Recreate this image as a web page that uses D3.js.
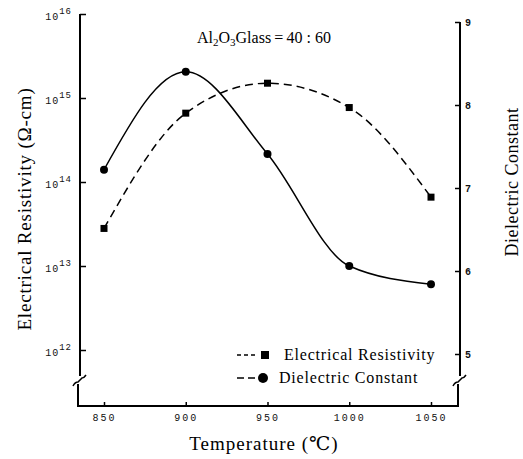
<!DOCTYPE html>
<html>
<head>
<meta charset="utf-8">
<script src="https://cdnjs.cloudflare.com/ajax/libs/d3/7.8.5/d3.min.js"></script>
<style>
  html, body { margin: 0; padding: 0; background: #fff; }
  svg { display: block; }
</style>
</head>
<body>
<svg id="chart" width="523" height="459"></svg>
<script>
// Firing temperature (°C)
const temperatures = [850, 900, 950, 1000, 1050];
// Electrical resistivity (Ω-cm), log scale, left axis
const resistivity = [2.8e13, 6.6e14, 1.5e15, 7.7e14, 6.6e13];
// Dielectric constant, right axis
const dielectric = [7.22, 8.40, 7.41, 6.06, 5.84];
// Tick values
const resistivityTicks = [1e12, 1e13, 1e14, 1e15, 1e16];
const dielectricTicks = [5, 6, 7, 8, 9];
const temperatureTicks = [850, 900, 950, 1000, 1050];

const svg = d3.select("#chart");
const serif = "'Liberation Serif', 'DejaVu Serif', serif";
const mono = "'Liberation Mono', 'DejaVu Sans Mono', monospace";

// frame geometry
const leftX = 80, rightX = 460, bottomY = 406;
const breakY = 380;

const x = d3.scaleLinear().domain([850, 1050]).range([104, 431]);
const yL = d3.scaleLog().domain([1e12, 1e16]).range([350, 14]);
const yR = d3.scaleLinear().domain([5, 9]).range([354, 22]);

// ---- axes lines with break marks ----
const frame = svg.append("g").attr("stroke", "#000").attr("stroke-width", 2).attr("fill", "none");
// left spine
frame.append("path").attr("d", `M${leftX},${yL(1e16)} L${leftX},${breakY - 4}`);
frame.append("path").attr("d", `M${leftX - 2},${breakY + 4} L${leftX - 2},${bottomY}`);
frame.append("path").attr("stroke-width", 1.5)
  .attr("d", `M${leftX - 7},${breakY + 6} q2,-4 5,-4 l4,-4 q2,0 4,-3`);
// right spine
frame.append("path").attr("d", `M${rightX},${yR(9)} L${rightX},${breakY - 4}`);
frame.append("path").attr("d", `M${rightX - 2},${breakY + 4} L${rightX - 2},${bottomY}`);
frame.append("path").attr("stroke-width", 1.5)
  .attr("d", `M${rightX - 7},${breakY + 6} q2,-4 5,-4 l4,-4 q2,0 4,-3`);
// bottom spine
frame.append("path").attr("d", `M${leftX - 3},${bottomY} L${rightX - 1},${bottomY}`);

// ---- left axis (log) ----
const gL = svg.append("g").attr("transform", `translate(${leftX},0)`)
  .call(d3.axisLeft(yL).tickValues(resistivityTicks).tickSize(-6).tickPadding(8)
    .tickFormat(d => Math.round(Math.log10(d))));
gL.select(".domain").remove();
gL.selectAll(".tick line").attr("stroke", "#000").attr("stroke-width", 1.5);
gL.selectAll(".tick text").each(function (d) {
  const t = d3.select(this);
  const exp = Math.round(Math.log10(d));
  t.text(null).attr("font-family", mono).attr("font-size", 10).attr("fill", "#111")
    .attr("dy", "0.5em").attr("letter-spacing", 1);
  t.append("tspan").text("10");
  t.append("tspan").attr("dy", -6).attr("font-size", 9).text(exp);
});

// ---- right axis (linear) ----
const gR = svg.append("g").attr("transform", `translate(${rightX},0)`)
  .call(d3.axisRight(yR).tickValues(dielectricTicks).tickSize(-5).tickPadding(5)
    .tickFormat(d3.format("d")));
gR.select(".domain").remove();
gR.selectAll(".tick line").attr("stroke", "#000").attr("stroke-width", 1.5);
gR.selectAll(".tick text").attr("font-family", mono).attr("font-size", 10)
  .attr("fill", "#111").attr("font-weight", "bold");

// ---- bottom axis ----
const gB = svg.append("g").attr("transform", `translate(0,${bottomY})`)
  .call(d3.axisBottom(x).tickValues(temperatureTicks).tickSize(-4).tickPadding(8)
    .tickFormat(d3.format("d")));
gB.select(".domain").remove();
gB.selectAll(".tick line").attr("stroke", "#000").attr("stroke-width", 1.5);
gB.selectAll(".tick text").attr("font-family", mono).attr("font-size", 10)
  .attr("fill", "#111").attr("letter-spacing", 2);

// ---- curves ----
const resLine = d3.line().x((d, i) => x(temperatures[i])).y(d => yL(d))
  .curve(d3.curveMonotoneX);
const dieLine = d3.line().x((d, i) => x(temperatures[i])).y(d => yR(d))
  .curve(d3.curveMonotoneX);

svg.append("path").datum(resistivity).attr("d", resLine)
  .attr("fill", "none").attr("stroke", "#000").attr("stroke-width", 1.5)
  .attr("stroke-dasharray", "8,5");
svg.append("path").datum(dielectric).attr("d", dieLine)
  .attr("fill", "none").attr("stroke", "#000").attr("stroke-width", 1.5);

svg.append("g").selectAll("rect").data(resistivity).join("rect")
  .attr("x", (d, i) => x(temperatures[i]) - 3.5).attr("y", d => yL(d) - 3.5)
  .attr("width", 7).attr("height", 7).attr("fill", "#000");
svg.append("g").selectAll("circle").data(dielectric).join("circle")
  .attr("cx", (d, i) => x(temperatures[i])).attr("cy", d => yR(d))
  .attr("r", 4).attr("fill", "#000");

// ---- title ----
const title = svg.append("text").attr("x", 264).attr("y", 43).attr("text-anchor", "middle")
  .attr("font-family", serif).attr("font-size", 16).attr("fill", "#000");
title.append("tspan").text("Al");
title.append("tspan").attr("font-size", 11).attr("dy", 3).text("2");
title.append("tspan").attr("dy", -3).text("O");
title.append("tspan").attr("font-size", 11).attr("dy", 3).text("3");
title.append("tspan").attr("dy", -3).text("Glass\u2009=\u200940 : 60");

// ---- axis titles ----
svg.append("text").attr("transform", "translate(31,209) rotate(-90)")
  .attr("text-anchor", "middle").attr("font-family", serif).attr("font-size", 19)
  .attr("letter-spacing", 0.8).text("Electrical Resistivity (Ω-cm)");
svg.append("text").attr("transform", "translate(518,182) rotate(-90)")
  .attr("text-anchor", "middle").attr("font-family", serif).attr("font-size", 18)
  .attr("letter-spacing", 0.5).text("Dielectric Constant");
svg.append("text").attr("x", 264).attr("y", 450).attr("text-anchor", "middle")
  .attr("font-family", serif).attr("font-size", 19).attr("letter-spacing", 1)
  .text("Temperature (℃)");

// ---- legend ----
const lg = svg.append("g").attr("font-family", serif).attr("font-size", 16).attr("fill", "#000");
lg.append("line").attr("x1", 237).attr("x2", 258).attr("y1", 355).attr("y2", 355)
  .attr("stroke", "#000").attr("stroke-width", 1.5).attr("stroke-dasharray", "4,3");
lg.append("rect").attr("x", 261).attr("y", 351).attr("width", 8).attr("height", 8);
lg.append("text").attr("x", 284).attr("y", 360).attr("letter-spacing", 0.8).text("Electrical Resistivity");
lg.append("line").attr("x1", 237).attr("x2", 256).attr("y1", 378).attr("y2", 378)
  .attr("stroke", "#000").attr("stroke-width", 1.5).attr("stroke-dasharray", "7,4");
lg.append("circle").attr("cx", 263).attr("cy", 378).attr("r", 5);
lg.append("text").attr("x", 279).attr("y", 383).attr("letter-spacing", 0.8).text("Dielectric Constant");
</script>
</body>
</html>
